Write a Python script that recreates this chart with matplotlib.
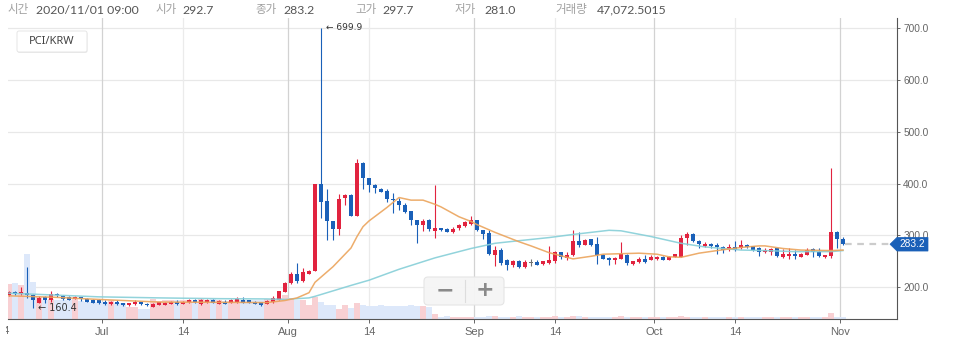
import numpy as np
import pandas as pd
import matplotlib
matplotlib.use('Agg')
import matplotlib.pyplot as plt
from matplotlib.patches import FancyBboxPatch, Polygon
from matplotlib.lines import Line2D
from matplotlib.transforms import blended_transform_factory, Bbox

# ---------------- data ----------------
start_date = '2020-06-15'
end_date = '2020-11-01'

opens = [186, 191, 187, 190, 186, 171, 182, 176, 188, 183,
         181, 178, 181, 178, 176, 176, 173, 168, 173, 170,
         166, 168, 172, 169, 163, 167, 167, 169, 173, 169,
         172, 176, 169, 172, 176, 169, 173, 171, 172, 176,
         175, 173, 172, 169, 173, 176, 192, 209, 226, 213,
         226, 232, 399, 366, 327, 312, 372, 378, 338, 439,
         410, 398, 389, 386, 371, 367, 359, 347, 330, 320,
         329, 309, 314, 313, 307, 314, 319, 322, 330, 310,
         304, 263, 272, 252, 244, 250, 239, 248, 249, 245,
         247, 250, 268, 256, 262, 290, 282, 293, 284, 263,
         257, 252, 255, 263, 245, 249, 255, 253, 254, 259,
         253, 258, 259, 296, 303, 290, 279, 284, 282, 277,
         274, 278, 275, 282, 279, 276, 268, 268, 275, 258,
         261, 265, 258, 263, 274, 268, 258, 261, 307, 292.7]
highs = [194, 193, 200, 239, 188, 184, 184, 193, 190, 186,
         183, 183, 182, 179, 177, 177, 175, 174, 175, 171,
         171, 175, 173, 170, 170, 173, 172, 174, 175, 174,
         177, 177, 177, 177, 177, 175, 176, 177, 181, 181,
         176, 174, 173, 175, 183, 194, 210, 230, 248, 237,
         234, 400, 699.9, 389, 328, 379, 379, 380, 448, 442,
         411, 400, 392, 389, 382, 373, 362, 347, 330, 332,
         332, 397, 315, 314, 316, 323, 327, 337, 330, 311,
         310, 280, 276, 255, 253, 253, 253, 254, 253, 251,
         280, 271, 269, 269, 310, 307, 294, 294, 298, 265,
         258, 258, 287, 265, 251, 258, 263, 262, 260, 260,
         261, 265, 300, 306, 304, 291, 287, 286, 285, 279,
         284, 289, 291, 283, 280, 277, 275, 275, 276, 274,
         275, 272, 266, 275, 275, 275, 263, 430, 309, 297.7]
lows = [184, 186, 185, 180, 160.4, 170, 171, 173, 182, 176,
        175, 177, 174, 172, 170, 168, 167, 167, 166, 165,
        165, 167, 167, 165, 162, 166, 166, 168, 167, 168,
        171, 171, 167, 171, 170, 168, 168, 170, 171, 170,
        170, 168, 165, 168, 171, 175, 191, 206, 208, 211,
        225, 231, 333, 291, 291, 300, 359, 337, 337, 389,
        383, 381, 383, 365, 343, 349, 343, 320, 285, 309,
        309, 295, 308, 306, 305, 311, 316, 320, 308, 293,
        262, 241, 243, 234, 240, 237, 238, 242, 243, 244,
        246, 248, 255, 253, 260, 278, 281, 279, 245, 254,
        244, 245, 254, 244, 244, 248, 248, 253, 253, 252,
        252, 258, 258, 282, 288, 275, 278, 275, 264, 266,
        271, 271, 274, 276, 271, 261, 266, 263, 258, 257,
        254, 255, 258, 262, 259, 259, 257, 257, 275, 281.0]
closes = [191, 187, 191, 186, 176, 180, 176, 187, 185, 178,
          176, 182, 177, 173, 171, 170, 168, 173, 168, 166,
          170, 173, 168, 166, 169, 172, 171, 173, 169, 173,
          176, 172, 175, 176, 171, 174, 169, 176, 177, 171,
          171, 169, 166, 174, 179, 193, 209, 226, 213, 230,
          232, 399, 365, 327, 312, 371, 378, 338, 439, 411,
          398, 391, 384, 370, 368, 359, 346, 330, 320, 328,
          312, 315, 310, 307, 313, 320, 325, 330, 310, 303,
          265, 272, 248, 244, 250, 239, 249, 248, 243, 250,
          252, 269, 259, 263, 289, 282, 292, 282, 262, 255,
          252, 256, 264, 248, 250, 254, 249, 259, 259, 253,
          259, 264, 295, 303, 290, 284, 284, 279, 277, 273,
          277, 273, 282, 277, 272, 269, 273, 274, 261, 264,
          265, 260, 264, 273, 269, 261, 263, 307, 293, 283.2]
volumes = [1050000, 1080000, 1020000, 1950000, 1110000, 660000, 570000, 600000, 570000, 570000,
           570000, 600000, 540000, 510000, 510000, 510000, 510000, 570000, 480000, 480000,
           360000, 360000, 300000, 300000, 600000, 540000, 570000, 570000, 570000, 570000,
           570000, 510000, 600000, 570000, 600000, 570000, 540000, 540000, 570000, 570000,
           570000, 570000, 570000, 600000, 600000, 630000, 720000, 630000, 570000, 570000,
           420000, 660000, 510000, 420000, 420000, 300000, 420000, 330000, 480000, 420000,
           390000, 390000, 420000, 390000, 390000, 390000, 390000, 420000, 390000, 390000,
           360000, 150000, 60000, 75000, 55000, 50000, 70000, 65000, 60000, 70000,
           80000, 90000, 70000, 60000, 65000, 85000, 70000, 60000, 55000, 60000,
           70000, 75000, 60000, 70000, 95000, 80000, 60000, 55000, 70000, 55000,
           50000, 55000, 80000, 60000, 60000, 55000, 50000, 55000, 60000, 50000,
           55000, 50000, 80000, 70000, 60000, 55000, 50000, 55000, 60000, 50000,
           55000, 50000, 60000, 55000, 45000, 50000, 55000, 50000, 60000, 55000,
           50000, 50000, 55000, 60000, 50000, 55000, 45000, 180000, 70000, 47072.5015]

ma_short_dates = ['2020-06-15', '2020-06-23', '2020-06-30', '2020-07-10', '2020-07-20',
                  '2020-07-28', '2020-07-31', '2020-08-02', '2020-08-04', '2020-08-05',
                  '2020-08-08', '2020-08-11', '2020-08-12', '2020-08-13', '2020-08-14',
                  '2020-08-17', '2020-08-19', '2020-08-21', '2020-08-23', '2020-08-25',
                  '2020-08-26', '2020-08-29', '2020-08-31', '2020-09-01', '2020-09-04',
                  '2020-09-08', '2020-09-10', '2020-09-13', '2020-09-17', '2020-09-20',
                  '2020-09-22', '2020-09-28', '2020-10-01', '2020-10-03', '2020-10-05',
                  '2020-10-08', '2020-10-11', '2020-10-15', '2020-10-18', '2020-10-19',
                  '2020-10-22', '2020-10-25', '2020-10-30', '2020-11-01']
ma_short_vals = [184, 181, 177, 172, 171.5, 171, 175, 180, 190, 210,
                 240, 276, 298, 317, 328, 354, 373, 368, 368, 360,
                 355, 336, 327, 321, 306, 288, 280, 267, 255, 260,
                 264, 266, 264, 259, 258, 266, 271, 277, 280, 280,
                 275, 272, 271, 272]

ma_long_dates = ['2020-06-15', '2020-06-30', '2020-07-10', '2020-07-20', '2020-07-28',
                 '2020-07-31', '2020-08-04', '2020-08-05', '2020-08-11', '2020-08-14',
                 '2020-08-19', '2020-08-25', '2020-08-31', '2020-09-04', '2020-09-08',
                 '2020-09-13', '2020-09-17', '2020-09-20', '2020-09-23', '2020-09-25',
                 '2020-09-30', '2020-10-05', '2020-10-09', '2020-10-15', '2020-10-19',
                 '2020-10-24', '2020-10-30', '2020-11-01']
ma_long_vals = [189, 182, 180, 178.5, 178, 177, 180, 183, 204, 214,
                235, 257, 275, 285, 290, 296, 302, 306, 310, 309,
                298, 285, 278, 272, 271, 269, 269, 271]

y_ticks = [200, 300, 400, 500, 600, 700]
month_tick_dates = ['2020-07-01', '2020-08-01', '2020-09-01', '2020-10-01', '2020-11-01']
month_tick_labels = ['Jul', 'Aug', 'Sep', 'Oct', 'Nov']
mid_tick_dates = ['2020-06-14', '2020-07-14', '2020-08-14', '2020-09-14', '2020-10-14']
mid_tick_labels = ['14', '14', '14', '14', '14']

header_labels = ['시간', '시가', '종가', '고가', '저가', '거래량']
header_time = '2020/11/01 09:00'
pair_name = 'PCI/KRW'

# ---------------- figure ----------------
dates = pd.date_range(start_date, end_date, freq='D')
n = len(dates)
xs = np.arange(n)
o = np.array(opens, float); h = np.array(highs, float)
l = np.array(lows, float); c = np.array(closes, float)
vol = np.array(volumes, float)


def day_index(s):
    return (pd.Timestamp(s) - dates[0]).days


W, H = 958, 346
fig = plt.figure(figsize=(W / 100, H / 100), dpi=100)
fig.patch.set_facecolor('white')
PL, PR, PT, PB = 8, 897, 18, 319
ax = fig.add_axes([PL / W, 1 - PB / H, (PR - PL) / W, (PB - PT) / H])
XMIN, XMAX = -0.17, 148.0
YMIN, YMAX = 139.4, 718.3
ax.set_xlim(XMIN, XMAX)
ax.set_ylim(YMIN, YMAX)
ax.set_facecolor('white')

UP = '#e1233f'
DOWN = '#1a60b8'
EVEN = '#707070'
VUP = '#f8d0d3'
VDOWN = '#dde8fa'

# grid
ax.set_axisbelow(True)
ax.set_yticks(y_ticks)
ax.set_yticklabels([f'{v:.1f}' for v in y_ticks])
ax.yaxis.grid(True, color='#e8e8e8', linewidth=0.9)
month_pos = [day_index(d) - 0.5 for d in month_tick_dates]
mid_pos = [day_index(d) for d in mid_tick_dates]
for p in month_pos:
    ax.axvline(p, color='#d2d2d2', linewidth=0.9, zorder=0.6)
for p in mid_pos:
    if XMIN < p < XMAX:
        ax.axvline(p, color='#ebebeb', linewidth=0.9, zorder=0.6)

# volume (bottom band, scaled in axes fraction)
vol_tr = blended_transform_factory(ax.transData, ax.transAxes)
vcols = [VUP if cc >= oo else VDOWN for oo, cc in zip(o, c)]
ax.bar(xs, vol / vol.max() * 0.216, width=1.0, bottom=0, color=vcols,
       transform=vol_tr, zorder=1, linewidth=0)

# candles
ccols = [UP if cc > oo else (DOWN if cc < oo else EVEN) for oo, cc in zip(o, c)]
ax.vlines(xs, l, h, colors=ccols, linewidth=0.8, zorder=3)
ax.bar(xs, np.maximum(np.abs(c - o), 1.8), bottom=np.minimum(o, c), width=0.62,
       color=ccols, linewidth=0, zorder=4)

# moving averages
ax.plot([day_index(d) for d in ma_long_dates], ma_long_vals, color='#86cfd8',
        linewidth=1.1, alpha=0.9, zorder=5, solid_joinstyle='round')
ax.plot([day_index(d) for d in ma_short_dates], ma_short_vals, color='#eba45c',
        linewidth=1.1, alpha=0.9, zorder=5, solid_joinstyle='round')

# high / low annotations
i_hi = int(np.argmax(h)); i_lo = int(np.argmin(l))
ax.text(i_hi + 0.9, h[i_hi], f'\u2190 {h[i_hi]:.1f}', fontsize=6.5, color='#333333',
        va='center', ha='left', family='DejaVu Sans', zorder=6)
ax.text(i_lo + 0.8, l[i_lo], f'\u2190 {l[i_lo]:.1f}', fontsize=7, color='#333333',
        va='center', ha='left', family='DejaVu Sans', zorder=6)

# last price dashed line
ax.hlines(c[-1], n - 1 + 0.4, XMAX, colors='#cccccc', linewidth=1.6,
          linestyles=(0, (3, 2.5)), zorder=5)

# axes / ticks
for s in ['left', 'top']:
    ax.spines[s].set_visible(False)
for s in ['right', 'bottom']:
    ax.spines[s].set_color('#555555')
    ax.spines[s].set_linewidth(0.8)
ax.yaxis.tick_right()
ax.tick_params(axis='y', length=2.5, width=0.7, pad=2, labelsize=7.3,
               colors='#666666', labelcolor='#666666')
xt = month_pos + [p for p in mid_pos if XMIN < p < XMAX]
xl = month_tick_labels + [lab for p, lab in zip(mid_pos, mid_tick_labels) if XMIN < p < XMAX]
ax.set_xticks(xt)
ax.set_xticklabels(xl)
ax.tick_params(axis='x', length=3, width=0.7, pad=3, labelsize=8,
               colors='#666666', labelcolor='#666666')
for t in ax.get_xticklabels() + ax.get_yticklabels():
    t.set_family('Liberation Sans')

# cut-off mid-month label at the left edge
px_per_axes_y = (PB - PT)
t_cut = ax.text(mid_pos[0], -6.5 / px_per_axes_y, mid_tick_labels[0],
                transform=blended_transform_factory(ax.transData, ax.transAxes),
                ha='center', va='top', fontsize=8, color='#666666',
                family='Liberation Sans', clip_on=True)
t_cut.set_clip_box(Bbox.from_extents(5.5, 0, W, H))

# last price tag
ppu = ax.bbox.height / (YMAX - YMIN)
dy = 6.8 / ppu
tag_tr = blended_transform_factory(fig.transFigure, ax.transData)
tag = Polygon([(890 / W, c[-1]), (897 / W, c[-1] + dy), (928 / W, c[-1] + dy),
               (928 / W, c[-1] - dy), (897 / W, c[-1] - dy)], closed=True,
              transform=tag_tr, facecolor=DOWN, edgecolor=DOWN, linewidth=0.5,
              clip_on=False, zorder=20)
ax.add_patch(tag)
ax.text(912.5 / W, c[-1], f'{c[-1]:.1f}', transform=tag_tr, color='white',
        fontsize=7.3, ha='center', va='center', family='Liberation Sans',
        clip_on=False, zorder=21)

# header
fy = 1 - 10 / H
hdr_vals = [header_time, f'{o[-1]:.1f}', f'{c[-1]:.1f}', f'{h[-1]:.1f}',
            f'{l[-1]:.1f}', f'{vol[-1]:,.4f}']
lab_x = [8, 155, 255, 355, 455, 555]
val_x = [36, 182, 283, 382, 484, 597]
for lab, lx, val, vx in zip(header_labels, lab_x, hdr_vals, val_x):
    fig.text(lx / W, fy, lab, fontsize=8.3, color='#a0a0a0', ha='left', va='center',
             family=['Noto Sans CJK KR', 'DejaVu Sans'])
    fig.text(vx / W, fy, val, fontsize=8.8, color='#555555', ha='left', va='center',
             family=['Lato', 'DejaVu Sans'])

# pair box
inch = fig.dpi_scale_trans
shadow = FancyBboxPatch((0.175, (H - 53) / 100), 0.70, 0.21,
                        boxstyle='round,pad=0,rounding_size=0.02', transform=inch,
                        facecolor='#ececec', edgecolor='none', zorder=9)
box = FancyBboxPatch((0.17, (H - 52) / 100), 0.70, 0.21,
                     boxstyle='round,pad=0,rounding_size=0.02', transform=inch,
                     facecolor='white', edgecolor='#e2e2e2', linewidth=0.6, zorder=10)
fig.patches.extend([shadow, box])
fig.text(0.52 / (W / 100), 1 - 41.5 / H, pair_name, fontsize=8, color='#444444',
         ha='center', va='center', family='Noto Sans', zorder=11)

# zoom controls
zbox = FancyBboxPatch((4.24, (H - 305) / 100), 0.80, 0.28,
                      boxstyle='round,pad=0,rounding_size=0.04', transform=inch,
                      facecolor='#f5f5f5', edgecolor='#e4e4e4', linewidth=0.8,
                      alpha=0.95, zorder=10)
fig.patches.append(zbox)
fig.lines.append(Line2D([465 / W, 465 / W], [1 - 280 / H, 1 - 302 / H],
                        transform=fig.transFigure, color='#dddddd', linewidth=0.8, zorder=11))
fig.text(445 / W, 1 - 290 / H, '\u2212', fontsize=16, fontweight='bold', color='#8a8a8a',
         ha='center', va='center', family='DejaVu Sans', zorder=12)
fig.text(485 / W, 1 - 290 / H, '+', fontsize=16, fontweight='bold', color='#8a8a8a',
         ha='center', va='center', family='DejaVu Sans', zorder=12)

fig.savefig('out.png', dpi=100, facecolor='white')
